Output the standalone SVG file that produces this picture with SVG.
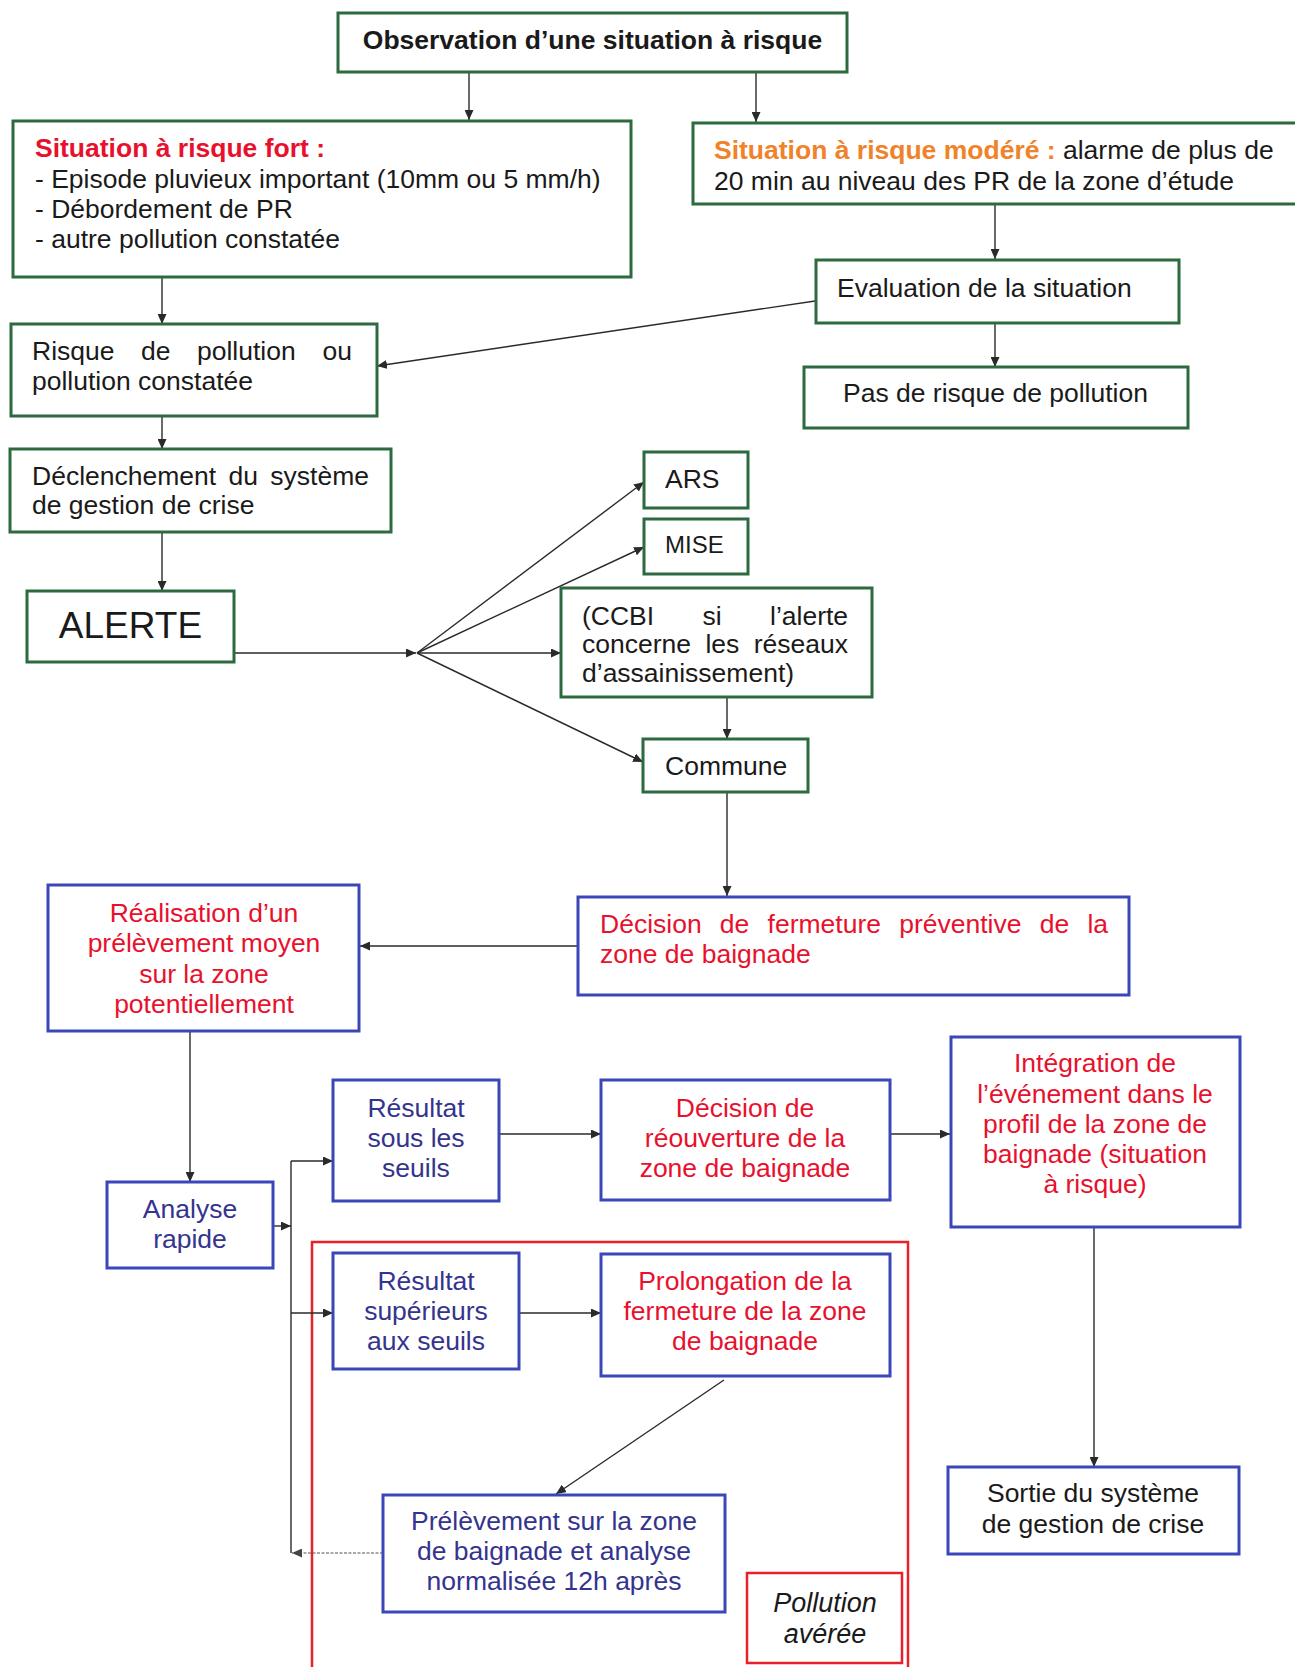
<svg xmlns="http://www.w3.org/2000/svg" width="1295" height="1667" viewBox="0 0 1295 1667">
<style>
text{font-family:"Liberation Sans",Arial,sans-serif;font-size:26.5px;fill:#1a1a1a}
.g{fill:#fff;stroke:#2d6a3f;stroke-width:3}
.b{fill:#fff;stroke:#3b47b8;stroke-width:3}
.r{fill:none;stroke:#e8202a;stroke-width:2.5}
.red{fill:#e8112d}
.blue{fill:#34348f}
.org{fill:#f0822a;font-weight:bold}
.bold{font-weight:bold}
.c{text-anchor:middle}
.e{text-anchor:end}
.ln{stroke:#2a2a2a;stroke-width:1.4;fill:none}
.ar{marker-end:url(#ah)}
</style>
<defs>
<marker id="ah" markerUnits="userSpaceOnUse" markerWidth="11" markerHeight="9" refX="10" refY="4.5" orient="auto"><path d="M0,0 L10,4.5 L0,9 z" fill="#2a2a2a"/></marker>
<marker id="ahg" markerUnits="userSpaceOnUse" markerWidth="11" markerHeight="9" refX="10" refY="4.5" orient="auto"><path d="M0,0 L10,4.5 L0,9 z" fill="#444"/></marker>
</defs>
<rect width="1295" height="1667" fill="#fff"/>

<g id="pollution-averee-zone">
<rect class="r" x="312" y="1242" width="596" height="440"/>
</g>

<g id="connectors">
<line class="ln ar" x1="469" y1="72" x2="469" y2="120"/>
<line class="ln ar" x1="756" y1="72" x2="756" y2="122"/>
<line class="ln ar" x1="162" y1="277" x2="162" y2="324"/>
<line class="ln ar" x1="995" y1="204" x2="995" y2="259"/>
<line class="ln ar" x1="995" y1="323" x2="995" y2="367"/>
<line class="ln ar" x1="815" y1="301" x2="377" y2="366"/>
<line class="ln ar" x1="162" y1="416" x2="162" y2="449"/>
<line class="ln ar" x1="162" y1="532" x2="162" y2="591"/>
<line class="ln ar" x1="234" y1="653" x2="416" y2="653"/>
<line class="ln ar" x1="417" y1="653" x2="644" y2="482"/>
<line class="ln ar" x1="417" y1="653" x2="644" y2="547"/>
<line class="ln ar" x1="417" y1="653" x2="561" y2="653"/>
<line class="ln ar" x1="417" y1="653" x2="643" y2="762"/>
<line class="ln ar" x1="727" y1="697" x2="727" y2="739"/>
<line class="ln ar" x1="727" y1="792" x2="727" y2="896"/>
<line class="ln ar" x1="577" y1="946" x2="360" y2="946"/>
<line class="ln ar" x1="190" y1="1031" x2="190" y2="1182"/>
<line class="ln ar" x1="273" y1="1226" x2="291" y2="1226"/>
<line class="ln" x1="291" y1="1161" x2="291" y2="1553"/>
<line class="ln ar" x1="291" y1="1161" x2="333" y2="1161"/>
<line class="ln ar" x1="291" y1="1313" x2="333" y2="1313"/>
<line class="ln ar" x1="520" y1="1313" x2="601" y2="1313"/>
<line class="ln ar" x1="499" y1="1134" x2="601" y2="1134"/>
<line class="ln ar" x1="890" y1="1134" x2="950" y2="1134"/>
<line class="ln ar" x1="1094" y1="1226" x2="1094" y2="1467"/>
<line class="ln ar" x1="724" y1="1380" x2="556" y2="1494"/>
<line x1="383" y1="1553" x2="292" y2="1553" stroke="#555" stroke-width="1.2" stroke-dasharray="3,1.5" marker-end="url(#ahg)"/>
</g>

<g id="observation">
<rect class="g" x="338" y="13" width="509" height="59"/>
<text class="bold c" x="592.5" y="49">Observation d’une situation à risque</text>
</g>

<g id="risque-fort">
<rect class="g" x="13" y="121" width="618" height="156"/>
<text class="bold red" x="35" y="157">Situation à risque fort :</text>
<text x="35" y="188">- Episode pluvieux important (10mm ou 5 mm/h)</text>
<text x="35" y="218">- Débordement de PR</text>
<text x="35" y="248">- autre pollution constatée</text>
</g>

<g id="risque-modere">
<rect class="g" x="693" y="123" width="620" height="81"/>
<text x="714" y="159"><tspan class="org">Situation à risque modéré :</tspan> alarme de plus de</text>
<text x="714" y="190">20 min au niveau des PR de la zone d’étude</text>
</g>

<g id="evaluation">
<rect class="g" x="816" y="260" width="363" height="63"/>
<text x="837" y="297">Evaluation de la situation</text>
</g>

<g id="pas-de-risque">
<rect class="g" x="804" y="367" width="384" height="61"/>
<text x="843" y="402">Pas de risque de pollution</text>
</g>

<g id="risque-pollution">
<rect class="g" x="11" y="324" width="366" height="92"/>
<text y="360"><tspan x="32">Risque</tspan><tspan x="141">de</tspan><tspan x="197">pollution</tspan><tspan x="322.5">ou</tspan></text>
<text x="32" y="390">pollution constatée</text>
</g>

<g id="declenchement">
<rect class="g" x="10" y="449" width="381" height="83"/>
<text y="485"><tspan x="32">Déclenchement</tspan><tspan x="228.5">du</tspan><tspan x="270.3">système</tspan></text>
<text x="32" y="514">de gestion de crise</text>
</g>

<g id="alerte">
<rect class="g" x="27" y="591" width="207" height="71"/>
<text class="c" x="130.5" y="638" style="font-size:37px">ALERTE</text>
</g>

<g id="ars">
<rect class="g" x="644" y="452" width="104" height="56"/>
<text x="665" y="488">ARS</text>
</g>

<g id="mise">
<rect class="g" x="644" y="519" width="104" height="55"/>
<text x="665" y="553" style="font-size:24px">MISE</text>
</g>

<g id="ccbi">
<rect class="g" x="561" y="588" width="311" height="109"/>
<text y="625"><tspan x="582">(CCBI</tspan><tspan x="702.5">si</tspan><tspan x="770">l’alerte</tspan></text>
<text y="653"><tspan x="582">concerne</tspan><tspan x="705.4">les</tspan><tspan x="753.7">réseaux</tspan></text>
<text x="582" y="682">d’assainissement)</text>
</g>

<g id="commune">
<rect class="g" x="643" y="739" width="165" height="53"/>
<text x="665" y="775">Commune</text>
</g>

<g id="decision-fermeture">
<rect class="b" x="578" y="897" width="551" height="98"/>
<text class="red" y="933"><tspan x="600">Décision</tspan><tspan x="719.8">de</tspan><tspan x="767.6">fermeture</tspan><tspan x="899.2">préventive</tspan><tspan x="1039.7">de</tspan><tspan x="1087.4">la</tspan></text>
<text class="red" x="600" y="963">zone de baignade</text>
</g>

<g id="realisation">
<rect class="b" x="48" y="885" width="311" height="146"/>
<text class="red c" x="204" y="922">Réalisation d’un</text>
<text class="red c" x="204" y="952">prélèvement moyen</text>
<text class="red c" x="204" y="983">sur la zone</text>
<text class="red c" x="204" y="1013">potentiellement</text>
</g>

<g id="analyse">
<rect class="b" x="107" y="1182" width="166" height="86"/>
<text class="blue c" x="190" y="1218">Analyse</text>
<text class="blue c" x="190" y="1248">rapide</text>
</g>

<g id="resultat-sous">
<rect class="b" x="333" y="1080" width="166" height="121"/>
<text class="blue c" x="416" y="1117">Résultat</text>
<text class="blue c" x="416" y="1147">sous les</text>
<text class="blue c" x="416" y="1177">seuils</text>
</g>

<g id="decision-reouverture">
<rect class="b" x="601" y="1080" width="289" height="120"/>
<text class="red c" x="745" y="1117">Décision de</text>
<text class="red c" x="745" y="1147">réouverture de la</text>
<text class="red c" x="745" y="1177">zone de baignade</text>
</g>

<g id="integration">
<rect class="b" x="951" y="1037" width="289" height="190"/>
<text class="red c" x="1095" y="1072">Intégration de</text>
<text class="red c" x="1095" y="1103">l’événement dans le</text>
<text class="red c" x="1095" y="1133">profil de la zone de</text>
<text class="red c" x="1095" y="1163">baignade (situation</text>
<text class="red c" x="1095" y="1193">à risque)</text>
</g>

<g id="sortie">
<rect class="b" x="948" y="1467" width="291" height="87"/>
<text class="c" x="1093" y="1502">Sortie du système</text>
<text class="c" x="1093" y="1533">de gestion de crise</text>
</g>

<g id="resultat-sup">
<rect class="b" x="333" y="1253" width="186" height="116"/>
<text class="blue c" x="426" y="1290">Résultat</text>
<text class="blue c" x="426" y="1320">supérieurs</text>
<text class="blue c" x="426" y="1350">aux seuils</text>
</g>

<g id="prolongation">
<rect class="b" x="601" y="1254" width="289" height="122"/>
<text class="red c" x="745" y="1290">Prolongation de la</text>
<text class="red c" x="745" y="1320">fermeture de la zone</text>
<text class="red c" x="745" y="1350">de baignade</text>
</g>

<g id="prelevement">
<rect class="b" x="383" y="1495" width="342" height="117"/>
<text class="blue c" x="554" y="1530">Prélèvement sur la zone</text>
<text class="blue c" x="554" y="1560">de baignade et analyse</text>
<text class="blue c" x="554" y="1590">normalisée 12h après</text>
</g>

<g id="pollution-averee">
<rect class="r" x="747" y="1573" width="155" height="90"/>
<text class="c" x="825" y="1612" style="font-style:italic;font-size:27px">Pollution</text>
<text class="c" x="825" y="1643" style="font-style:italic;font-size:27px">avérée</text>
</g>
</svg>
